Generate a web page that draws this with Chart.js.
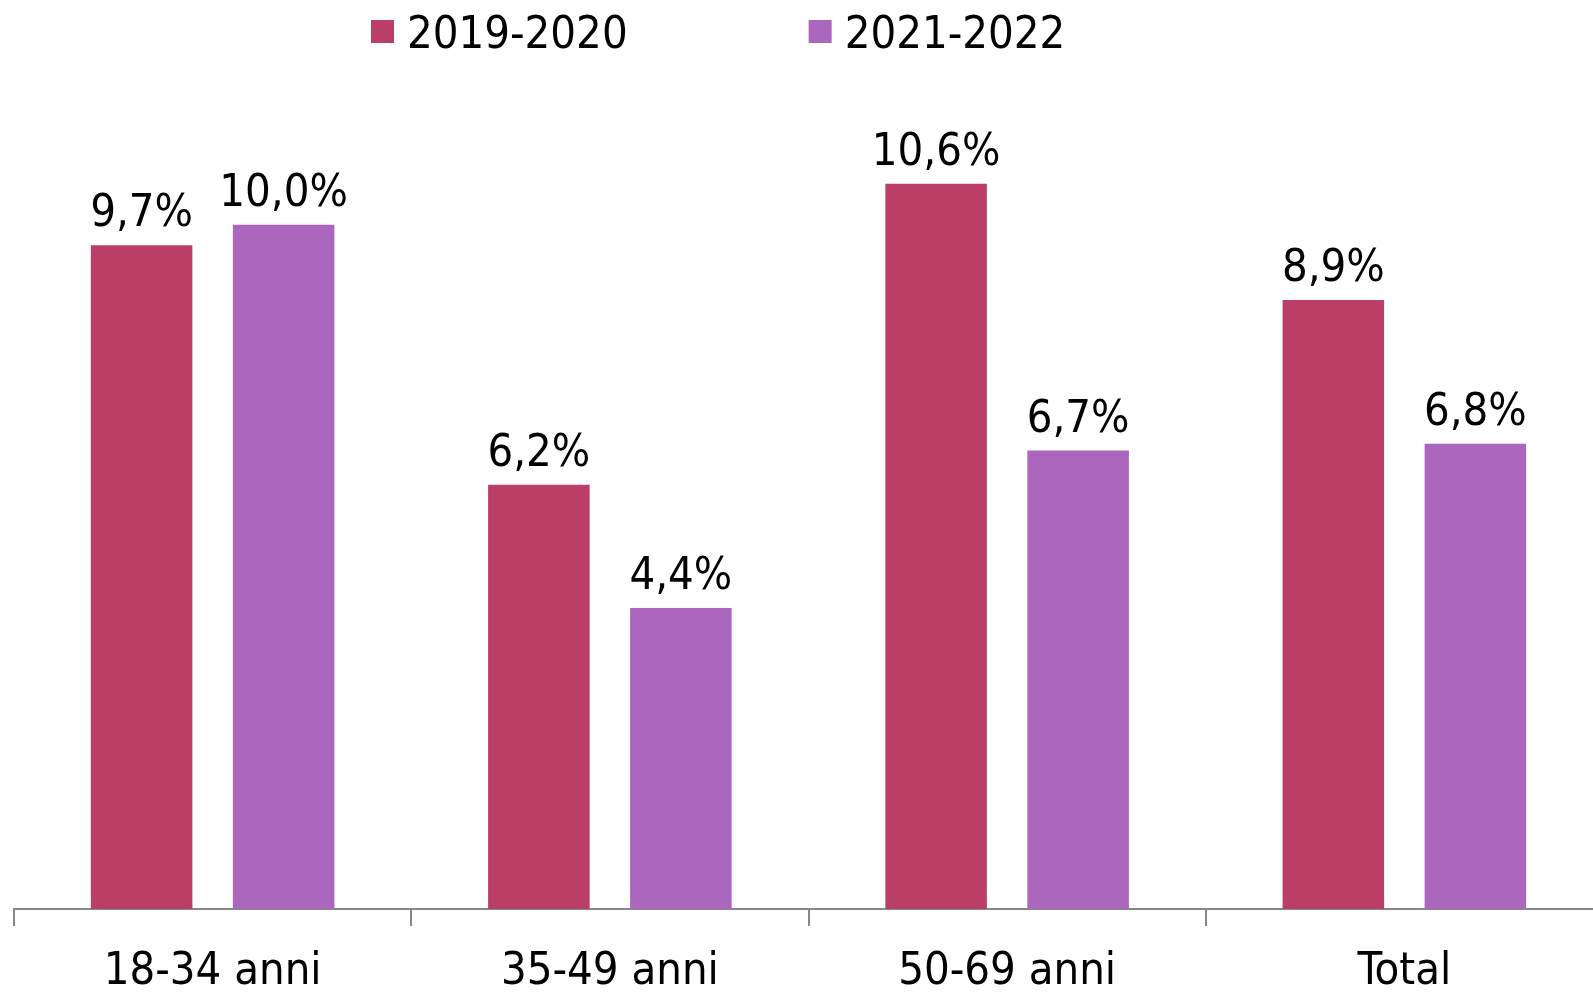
<!DOCTYPE html>
<html>
<head>
<meta charset="utf-8">
<script src="https://cdn.jsdelivr.net/npm/chart.js@4"></script>
<style>
  html, body { margin: 0; padding: 0; overflow: hidden; background: #fff; }
  #wrap { width: 1620px; height: 1022px; }
</style>
</head>
<body>
<div id="wrap"><canvas id="chart" width="1620" height="1022"></canvas></div>
<script>
const categories = ['18-34 anni', '35-49 anni', '50-69 anni', 'Total'];
const seriesNames = ['2019-2020', '2021-2022'];
const values2019 = [9.7, 6.2, 10.6, 8.9];
const values2021 = [10.0, 4.4, 6.7, 6.8];
const colors = ['#BB3E67', '#AB66BD'];

const FONT = '"DejaVu Sans Condensed", "DejaVu Sans", sans-serif';

// etichette sopra le barre
const valueLabels = {
    id: 'valueLabels',
    afterDatasetsDraw(chart) {
        const ctx = chart.ctx;
        ctx.save();
        ctx.font = '45px ' + FONT;
        ctx.fillStyle = '#000';
        ctx.textAlign = 'center';
        ctx.textBaseline = 'alphabetic';
        chart.data.datasets.forEach((ds, i) => {
            chart.getDatasetMeta(i).data.forEach((bar, j) => {
                const txt = ds.data[j].toFixed(1).replace('.', ',') + '%';
                ctx.fillText(txt, bar.x, bar.y - 19);
            });
        });
        ctx.restore();
    }
};

// legenda in alto, spostata a sinistra come nell'originale
const topLegend = {
    id: 'topLegend',
    afterDraw(chart) {
        const ctx = chart.ctx;
        ctx.save();
        ctx.font = '45px ' + FONT;
        ctx.textBaseline = 'alphabetic';
        ctx.textAlign = 'left';
        let x = 371;
        chart.data.datasets.forEach((ds) => {
            ctx.fillStyle = ds.backgroundColor;
            ctx.fillRect(x, 20, 23, 23);
            ctx.fillStyle = '#000';
            ctx.fillText(ds.label, x + 36, 48);
            x += 36 + ctx.measureText(ds.label).width + 181;
        });
        ctx.restore();
    }
};

new Chart(document.getElementById('chart').getContext('2d'), {
    type: 'bar',
    data: {
        labels: categories,
        datasets: [
            {
                label: seriesNames[0],
                data: values2019,
                backgroundColor: colors[0],
                categoryPercentage: 0.715,
                barPercentage: 0.715
            },
            {
                label: seriesNames[1],
                data: values2021,
                backgroundColor: colors[1],
                categoryPercentage: 0.715,
                barPercentage: 0.715
            }
        ]
    },
    options: {
        responsive: false,
        animation: false,
        layout: {
            padding: { top: 88, left: 14, right: 17, bottom: 3 }
        },
        plugins: {
            legend: { display: false },
            tooltip: { enabled: false }
        },
        scales: {
            x: {
                border: { display: true, color: '#888888', width: 2 },
                grid: {
                    offset: true,
                    drawOnChartArea: false,
                    drawTicks: true,
                    tickLength: 17,
                    color: '#888888',
                    lineWidth: 2
                },
                ticks: {
                    color: '#000',
                    padding: 24,
                    maxRotation: 0,
                    font: { family: FONT, size: 45, lineHeight: 1.0 }
                }
            },
            y: {
                display: false,
                min: 0,
                max: 12
            }
        }
    },
    plugins: [valueLabels, topLegend]
});
</script>
</body>
</html>
